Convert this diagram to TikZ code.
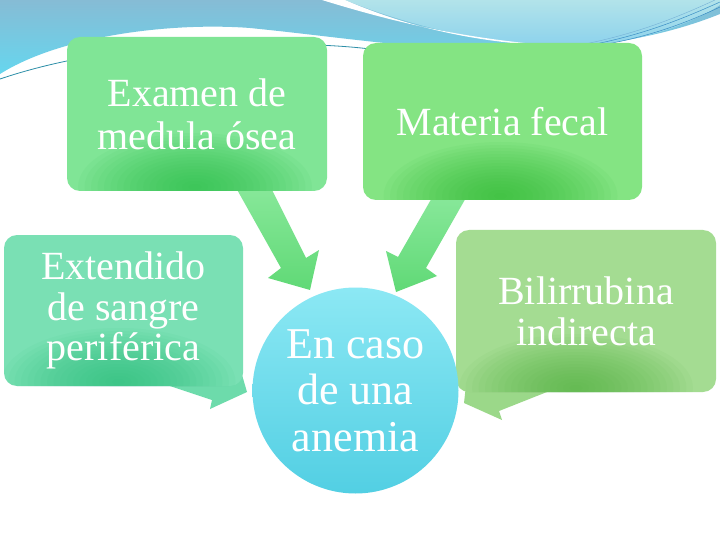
\documentclass[tikz,border=0pt]{standalone}
\usepackage{fontspec}
\setmainfont{Liberation Serif}
\definecolor{topblue}{HTML}{86BCD5}
\definecolor{topcyan}{HTML}{66D6EE}
\definecolor{lenstop}{HTML}{B2E3EA}
\definecolor{lensbot}{HTML}{8CD2EC}
\definecolor{tealline}{HTML}{2E8FA8}
\definecolor{thinblue}{HTML}{3A8EC4}
\definecolor{gA}{HTML}{80E596}
\definecolor{gAd}{HTML}{20BC40}
\definecolor{gB}{HTML}{84E483}
\definecolor{gBd}{HTML}{28B82C}
\definecolor{gC}{HTML}{7AE0B4}
\definecolor{gCd}{HTML}{24BC78}
\definecolor{gD}{HTML}{A4DC92}
\definecolor{gDd}{HTML}{4CB03A}
\definecolor{cyA}{HTML}{8CE8F4}
\definecolor{cyB}{HTML}{52CFE3}
\definecolor{arrT}{HTML}{88E89A}
\definecolor{arrB}{HTML}{60D976}
\newcommand{\boxspot}[4]{%
  \foreach \k in {18,17,...,1}{%
    \fill[#1, opacity=0.055] ([xshift=#4, yshift=4pt]path picture bounding box.south)
      ellipse [x radius=\k*#2, y radius=\k*#3];}}
\tikzset{
  box/.style={rounded corners=13pt, inner sep=0pt, text=white, align=center},
}
\begin{document}
\begin{tikzpicture}[x=1pt,y=-1pt]
\useasboundingbox (0,0) rectangle (720,540);
\fill[white] (0,0) rectangle (720,540);
% top decoration
\shade[top color=topblue, bottom color=topcyan]
  (0,0) -- (720,0) -- (720,14)
  .. controls (640,46) and (560,50) .. (470,49)
  .. controls (400,47) and (330,36) .. (250,28)
  .. controls (170,22) and (60,36) .. (0,74) -- cycle;
\shade[top color=lenstop, bottom color=lensbot]
  (345,0) .. controls (420,30) and (500,46) .. (570,46)
  .. controls (630,46) and (690,25) .. (720,5) -- (720,0) -- cycle;
\fill[white] (322,0) .. controls (400,24) and (470,40) .. (570,47)
  .. controls (480,44) and (410,28) .. (345,0) -- cycle;
\draw[thinblue, line width=0.5pt] (720,2) .. controls (680,20) and (640,36) .. (585,46);
\draw[thinblue, line width=0.5pt] (720,7) .. controls (684,24) and (646,38) .. (595,46);
\draw[thinblue!70, line width=0.4pt] (715,0) .. controls (676,18) and (636,34) .. (580,45);
\draw[tealline, line width=0.8pt] (0,79) .. controls (50,62) and (120,48) .. (200,45)
  .. controls (270,43) and (330,44) .. (370,49);
% block arrows
\shade[top color=arrT, bottom color=arrB]
  (235,186) -- (281,268) -- (268,278) -- (310,290) -- (319,250) -- (306,258) -- (270,186) -- cycle;
\shade[top color=arrT, bottom color=arrB]
  (433,196) -- (398,257) -- (386,251) -- (396,292) -- (437,276) -- (426,268) -- (467,196) -- cycle;
% callout tails
\fill[gC!85!gCd] (170,386) -- (212,400) -- (210,409) -- (247,392) -- (240,368) -- cycle;
\fill[gD!90!gDd] (466,385) -- (464,403) -- (502,420) -- (499,411) -- (552,390) -- cycle;
% boxes
\node[box, fill=gA, minimum width=260pt, minimum height=154pt,
  font=\fontsize{40}{43}\selectfont,
  path picture={\boxspot{gAd}{6.5pt}{3pt}{-2pt}}]
  (marrow) at (197,114) {Examen de\\medula ósea};
\node[box, fill=gB, minimum width=279pt, minimum height=157pt,
  font=\fontsize{40}{41}\selectfont,
  path picture={\boxspot{gBd}{6.5pt}{3pt}{-2pt}}]
  (feces) at (502.5,121.5) {Materia fecal};
\node[box, fill=gC, minimum width=239pt, minimum height=151pt,
  font=\fontsize{40}{40.5}\selectfont,
  path picture={\boxspot{gCd}{6.5pt}{3pt}{-5pt}}]
  (smear) at (123.5,310.5) {Extendido\\de sangre\\periférica};
\node[box, fill=gD, minimum width=260pt, minimum height=162pt,
  font=\fontsize{40}{41}\selectfont,
  path picture={\boxspot{gDd}{6.5pt}{3pt}{-10pt}}]
  (bili) at (586,311) {Bilirrubina\\indirecta};
% centre circle
\node[circle, inner sep=0pt, minimum size=206pt, top color=cyA, bottom color=cyB,
  text=white, align=center, font=\fontsize{44}{46.5}\selectfont]
  (anemia) at (355.5,390.5) {En caso\\de una\\anemia};
\end{tikzpicture}
\end{document}
